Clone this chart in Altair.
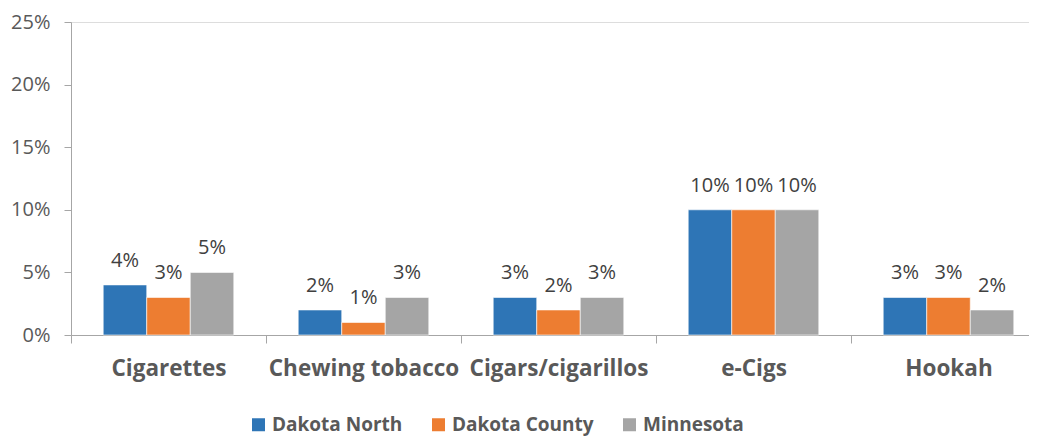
import altair as alt
import pandas as pd

categories = ["Cigarettes", "Chewing tobacco", "Cigars/cigarillos", "e-Cigs", "Hookah"]
series = ["Dakota North", "Dakota County", "Minnesota"]
dakota_north = [0.04, 0.02, 0.03, 0.10, 0.03]
dakota_county = [0.03, 0.01, 0.02, 0.10, 0.03]
minnesota = [0.05, 0.03, 0.03, 0.10, 0.02]
colors = ["#2E75B6", "#ED7D31", "#A5A5A5"]
y_ticks = [0, 0.05, 0.10, 0.15, 0.20, 0.25]

rows = []
for s, vals in zip(series, [dakota_north, dakota_county, minnesota]):
    for c, v in zip(categories, vals):
        rows.append({"category": c, "series": s, "value": v})
df = pd.DataFrame(rows)

FONT = "Open Sans"
GREY = "#595959"
LINE = "#A6A6A6"

x_enc = alt.X("category:N", sort=categories, title=None,
              scale=alt.Scale(range=[0, 975], paddingInner=0, paddingOuter=0),
              axis=alt.Axis(labelAngle=0, tickBand="extent", tickSize=8, tickColor=LINE,
                            domainColor=LINE, labelFont=FONT, labelFontSize=22.5,
                            labelFontWeight="bold", labelColor=GREY, labelPadding=14,
                            labelLimit=400))
xo_enc = alt.XOffset("series:N", sort=series,
                     scale=alt.Scale(paddingInner=0, paddingOuter=0.74))
y_enc = alt.Y("value:Q", title=None,
              scale=alt.Scale(domain=[0, 0.25], nice=False),
              axis=alt.Axis(values=y_ticks, format=".0%", grid=False, tickSize=7,
                            tickColor=LINE, domainColor=LINE, labelFont=FONT,
                            labelFontSize=20, labelColor=GREY, labelPadding=14))

bars = alt.Chart(df).mark_bar(stroke="white", strokeWidth=0.6).encode(
    x=x_enc, xOffset=xo_enc, y=y_enc,
    color=alt.Color("series:N", sort=series, title=None,
                    scale=alt.Scale(domain=series, range=colors),
                    legend=alt.Legend(orient="none", direction="horizontal",
                                      legendX=178, legendY=393, symbolType="square",
                                      symbolSize=169, symbolStrokeWidth=0,
                                      labelFont=FONT, labelFontSize=19,
                                      labelFontWeight="bold", labelColor=GREY,
                                      labelOffset=4, columnPadding=26, padding=0)),
)

labels = alt.Chart(df).mark_text(font=FONT, fontSize=20, color="#404040",
                                 baseline="alphabetic", dy=-18).encode(
    x=alt.X("category:N", sort=categories),
    xOffset=alt.XOffset("series:N", sort=series),
    y="value:Q",
    text=alt.Text("value:Q", format=".0%"),
)

chart = alt.layer(bars, labels).properties(
    width=958, height=313,
    autosize=alt.AutoSizeParams(type="none"),
    padding={"left": 63, "top": 14, "right": 0, "bottom": 104},
).configure_view(stroke=None).configure(background="white")

chart.save("out.html", embed_options={"renderer": "svg", "actions": False})
